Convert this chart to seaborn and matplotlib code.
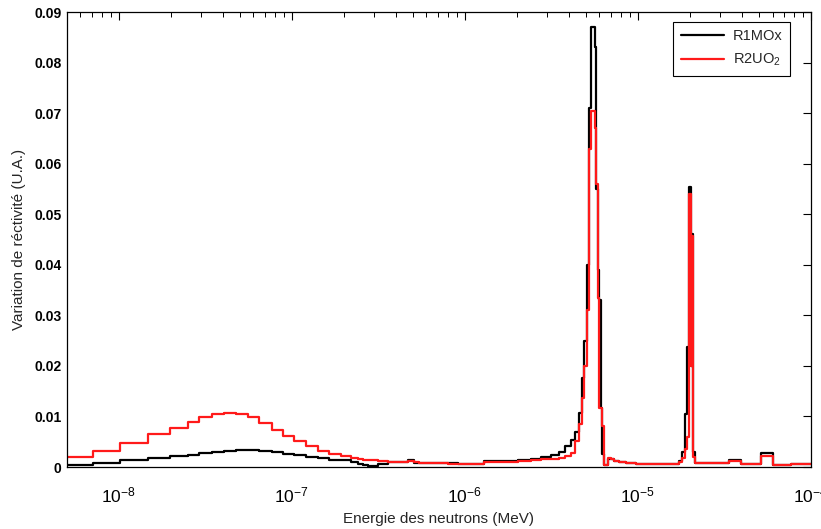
import numpy as np
import pandas as pd
import matplotlib
matplotlib.use("Agg")
import matplotlib.pyplot as plt
import seaborn as sns

sns.set_style("white")
plt.rcParams["font.family"] = ["Liberation Sans", "DejaVu Sans"]
plt.rcParams["mathtext.default"] = "regular"

# group boundaries, log10(E / MeV)
log_edges = [-8.30, -8.150, -7.994, -7.832, -7.705, -7.601, -7.538, -7.462, -7.393, -7.324,
             -7.254, -7.191, -7.116, -7.052, -6.988, -6.919, -6.850, -6.786, -6.717, -6.659,
             -6.618, -6.590, -6.561, -6.503, -6.445, -6.329, -6.295, -6.266, -6.098, -6.040,
             -5.948, -5.890, -5.694, -5.618, -5.561, -5.503, -5.457, -5.422, -5.387, -5.364,
             -5.341, -5.324, -5.309, -5.295, -5.280, -5.269, -5.249, -5.240, -5.231, -5.223,
             -5.214, -5.205, -5.197, -5.173, -5.156, -5.139, -5.110, -5.069, -5.012, -4.763,
             -4.746, -4.728, -4.714, -4.703, -4.694, -4.688, -4.682, -4.671, -4.474, -4.405,
             -4.289, -4.220, -4.116, -3.99]

# reactivity variation per group
r1mox = [0.0004, 0.0007, 0.0014, 0.0017, 0.0021, 0.0023, 0.0028, 0.0030, 0.0032, 0.0033,
         0.0033, 0.0031, 0.0029, 0.0026, 0.0023, 0.0020, 0.0017, 0.0014, 0.0013, 0.0010,
         0.0006, 0.0003, 0.0002, 0.0006, 0.0009, 0.0013, 0.0008, 0.0008, 0.0008, 0.0005,
         0.0006, 0.0011, 0.0014, 0.0016, 0.0020, 0.0023, 0.0030, 0.0041, 0.0054, 0.0070,
         0.0107, 0.0176, 0.025, 0.040, 0.071, 0.087, 0.083, 0.055, 0.039, 0.033,
         0.0117, 0.0025, 0.0003, 0.0015, 0.0015, 0.0012, 0.0009, 0.0007, 0.0005, 0.0012,
         0.0030, 0.0105, 0.0237, 0.0554, 0.020, 0.046, 0.003, 0.0007, 0.0014, 0.0005,
         0.0028, 0.0003, 0.0006]

r2uo2 = [0.0020, 0.0031, 0.0047, 0.0066, 0.0078, 0.0090, 0.0098, 0.0105, 0.0107, 0.0105,
         0.0098, 0.0087, 0.0074, 0.0062, 0.0051, 0.0041, 0.0031, 0.0025, 0.0021, 0.0017,
         0.0016, 0.0014, 0.0013, 0.0012, 0.0010, 0.0011, 0.0009, 0.0008, 0.0006, 0.0006,
         0.0006, 0.0010, 0.0011, 0.0013, 0.0015, 0.0016, 0.0018, 0.0022, 0.0027, 0.0052,
         0.0085, 0.0136, 0.020, 0.031, 0.063, 0.0705, 0.067, 0.056, 0.0335, 0.0117,
         0.0117, 0.0082, 0.0003, 0.0017, 0.0016, 0.0012, 0.0009, 0.0007, 0.0005, 0.0010,
         0.0017, 0.0035, 0.006, 0.054, 0.020, 0.0456, 0.002, 0.0007, 0.0012, 0.0005,
         0.0021, 0.0003, 0.0006]

x_ticks = [1e-8, 1e-7, 1e-6, 1e-5, 1e-4]
x_labels = ["$10^{-8}$", "$10^{-7}$", "$10^{-6}$", "$10^{-5}$", "$10^{-4}$"]

energy = 10 ** np.array(log_edges)
rows = []
for name, vals in [("R1MOx", r1mox), ("R2UO$_2$", r2uo2)]:
    y = list(vals) + [vals[-1]]
    rows.append(pd.DataFrame({"E": energy, "v": y, "serie": name}))
df = pd.concat(rows, ignore_index=True)

fig = plt.figure(figsize=(8.21, 5.29), dpi=100)
ax = fig.add_axes([0.081, 0.1172, 0.9068, 0.8601])

sns.lineplot(data=df, x="E", y="v", hue="serie", estimator=None, sort=False,
             palette={"R1MOx": "black", "R2UO$_2$": "#ff1a1a"},
             drawstyle="steps-post", linewidth=1.6, ax=ax)

ax.set_xscale("log")
ax.set_xlim(5e-9, 1e-4)
ax.set_ylim(0, 0.09)
ax.set_yticks(np.arange(0, 0.0901, 0.01))
ax.set_yticklabels(["0"] + ["%.2f" % t for t in np.arange(0.01, 0.0901, 0.01)])
ax.set_xticks(x_ticks)
ax.set_xticklabels(x_labels)

for s in ax.spines.values():
    s.set_color("black")
    s.set_linewidth(0.9)
ax.tick_params(which="both", direction="in", top=True, right=True, colors="black")
ax.tick_params(which="major", length=5.5, width=0.8)
ax.tick_params(which="minor", length=3.5, width=0.7)
ax.tick_params(axis="x", which="major", pad=13, labelsize=12.5)
ax.tick_params(axis="y", labelsize=10)
for t in ax.get_yticklabels():
    t.set_fontweight("bold")

ax.set_xlabel("Energie des neutrons (MeV)", fontsize=11, labelpad=5)
ax.set_ylabel("Variation de réctivité (U.A.)", fontsize=11, labelpad=6)

handles, labels = ax.get_legend_handles_labels()
leg = ax.legend(handles, labels, loc="upper right", bbox_to_anchor=(0.972, 0.978),
                borderaxespad=0, fontsize=10.5, frameon=True, fancybox=False,
                edgecolor="black", framealpha=1, handlelength=3.0, labelspacing=0.6,
                handletextpad=0.6, borderpad=0.5)
leg.get_frame().set_linewidth(0.8)

fig.savefig("out.png", dpi=100)
